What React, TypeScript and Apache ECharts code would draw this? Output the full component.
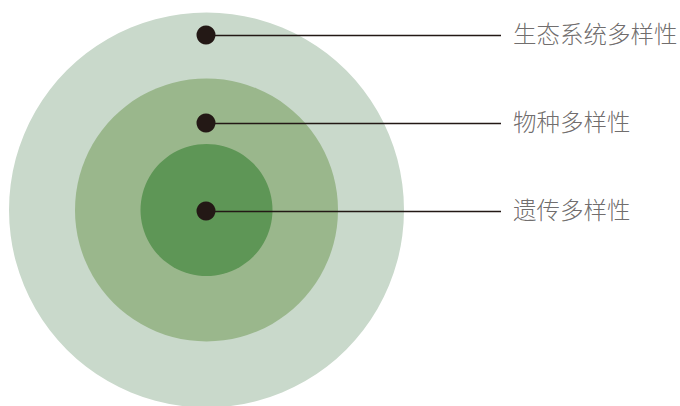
import React, { useEffect, useRef } from "react";
import * as echarts from "echarts";

const levels = ["生态系统多样性", "物种多样性", "遗传多样性"];
const radii = [197.5, 131.5, 66];
const dotY = [35, 123, 211];
const circleColors = ["#c9d9cb", "#9ab78c", "#5e9656"];
const centerX = 206.5;
const centerY = 210;
const lineEndX = 501;
const labelX = 513;

export default function App() {
  const ref = useRef<HTMLDivElement>(null);
  useEffect(() => {
    document.body.style.margin = "0";
    const chart = echarts.init(ref.current!, null, { renderer: "svg" });
    chart.setOption({
      animation: false,
      backgroundColor: "#ffffff",
      grid: { left: 0, top: 0, width: 680, height: 406 },
      xAxis: { type: "value", min: 0, max: 680, show: false },
      yAxis: { type: "value", min: 0, max: 406, inverse: true, show: false },
      series: [
        {
          type: "scatter",
          silent: true,
          z: 1,
          data: radii.map((r, i) => ({
            value: [centerX, centerY, r * 2],
            itemStyle: { color: circleColors[i], opacity: 1 },
          })),
          symbolSize: (v: number[]) => v[2],
        },
        {
          type: "lines",
          coordinateSystem: "cartesian2d",
          silent: true,
          z: 5,
          lineStyle: { color: "#231815", width: 1.3, opacity: 1 },
          data: dotY.map((y) => ({ coords: [[206, y], [lineEndX, y]] })),
        },
        {
          type: "scatter",
          silent: true,
          z: 6,
          symbolSize: 19,
          itemStyle: { color: "#231815", opacity: 1 },
          data: dotY.map((y) => [206, y]),
        },
        {
          type: "scatter",
          silent: true,
          z: 6,
          symbolSize: 0,
          data: dotY.map((y, i) => ({ value: [labelX, y], name: levels[i] })),
          label: {
            show: true,
            position: "right",
            distance: 0,
            offset: [0, -2],
            formatter: (p: any) => p.name,
            color: "#4a4646",
            fontSize: 23.5,
            fontWeight: 300,
            fontFamily: "Noto Sans CJK SC",
          },
        },
      ],
    });
    return () => chart.dispose();
  }, []);
  return <div ref={ref} style={{ width: 680, height: 406 }} />;
}
